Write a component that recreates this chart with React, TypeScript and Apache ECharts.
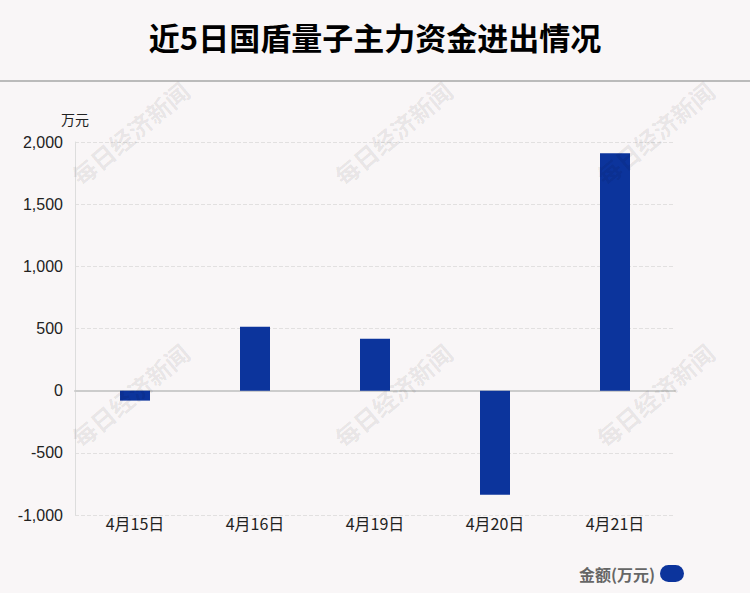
import React, { useEffect, useRef } from "react";
import * as echarts from "echarts";

const categories = ["4月15日", "4月16日", "4月19日", "4月20日", "4月21日"];
const values = [-80, 514, 418, -838, 1909];
const seriesName = "金额(万元)";
const titleText = "近5日国盾量子主力资金进出情况";
const watermark = "每日经济新闻";

export default function App() {
  const ref = useRef<HTMLDivElement>(null);
  useEffect(() => {
    const chart = echarts.init(ref.current!, null, { renderer: "svg" });
    const wmPos = [
      [130, 133], [393, 133], [655, 133],
      [130, 395], [393, 395], [655, 395],
    ];
    chart.setOption({
      animation: false,
      backgroundColor: "#f9f6f7",
      title: {
        text: titleText,
        left: "center",
        top: 16,
        textStyle: { fontSize: 31, fontWeight: "bold", color: "#000", fontFamily: "Noto Sans CJK SC" },
      },
      graphic: [
        { type: "line", shape: { x1: 0, y1: 81, x2: 750, y2: 81 }, style: { stroke: "#bbbbbb", lineWidth: 2 }, z: 10 },
        ...wmPos.map(([x, y]) => ({
          type: "text",
          x,
          y,
          rotation: Math.PI / 4.5,
          style: {
            text: watermark,
            fontSize: 24,
            fontWeight: "bold",
            fontFamily: "Noto Sans CJK SC",
            fill: "rgba(0,0,0,0.085)",
            align: "center",
            verticalAlign: "middle",
          },
          z: 100,
          silent: true,
        })),
      ],
      legend: {
        right: 61,
        bottom: 6,
        align: "right",
        itemWidth: 24,
        itemHeight: 17,
        icon: "path://M8.5,0 H15.5 A8.5,8.5 0 0 1 15.5,17 H8.5 A8.5,8.5 0 0 1 8.5,0 Z",
        itemGap: 5,
        textStyle: { fontSize: 16, fontWeight: "bold", color: "#666", fontFamily: "Noto Sans CJK SC" },
        data: [seriesName],
      },
      grid: { left: 75, right: 75, top: 142, bottom: 78, containLabel: false },
      xAxis: {
        type: "category",
        data: categories,
        axisLine: { onZero: true, lineStyle: { color: "#cccccc", width: 2 } },
        axisTick: { show: false },
        axisLabel: { fontSize: 16, color: "#222", fontFamily: "Noto Sans CJK SC", margin: 0 },
        position: "bottom",
      },
      yAxis: {
        type: "value",
        min: -1000,
        max: 2000,
        interval: 500,
        name: "万元",
        nameGap: 16,
        nameTextStyle: { fontSize: 14, color: "#222", align: "right", padding: [0, -14, 0, 0], fontFamily: "Noto Sans CJK SC" },
        axisLine: { show: true, lineStyle: { color: "#dddddd", width: 1 } },
        axisTick: { show: false },
        axisLabel: {
          fontSize: 16,
          color: "#222",
          fontFamily: "Liberation Sans",
          margin: 12,
          formatter: (v: number) => v.toLocaleString("en-US"),
        },
        splitLine: { lineStyle: { color: "#e2e0e0", type: "dashed" } },
      },
      series: [
        {
          name: seriesName,
          type: "bar",
          data: values,
          barWidth: 30,
          itemStyle: { color: "#0c349c" },
        },
      ],
    });
    return () => chart.dispose();
  }, []);
  return <div ref={ref} style={{ width: 750, height: 593, position: "absolute", left: 0, top: 0 }} />;
}
